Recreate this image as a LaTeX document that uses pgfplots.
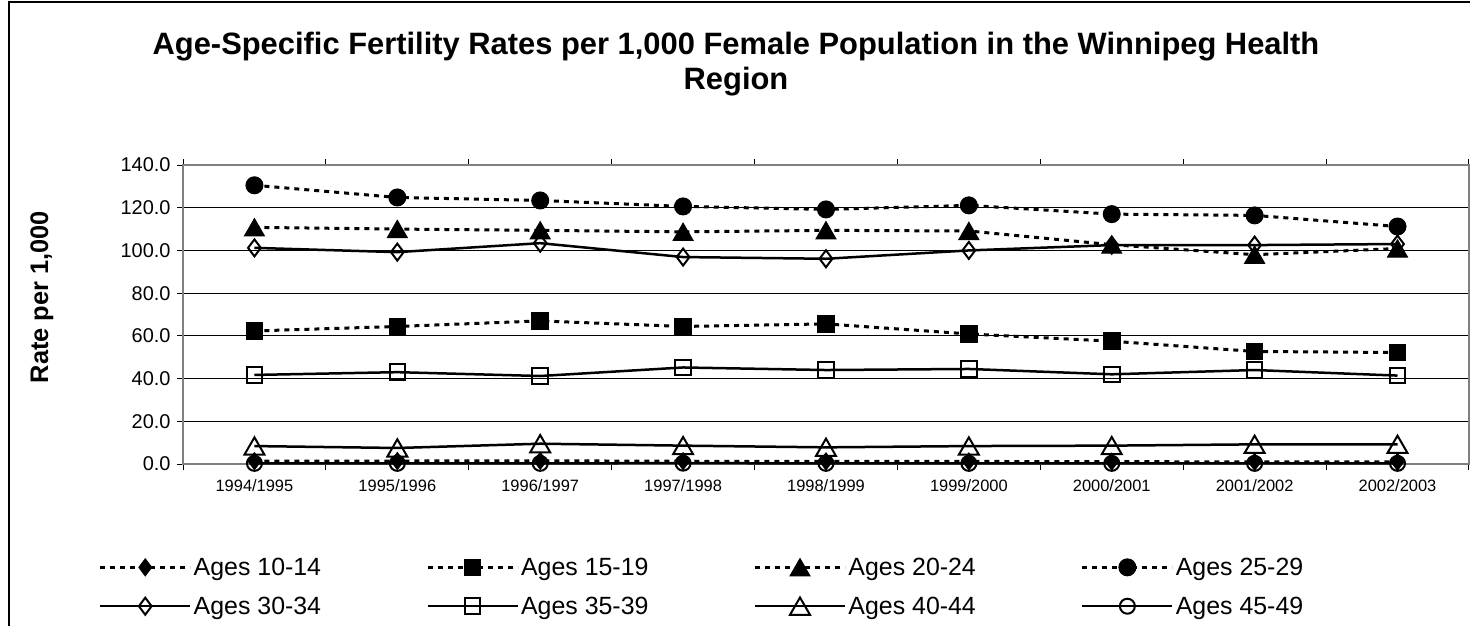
\documentclass[border=0pt]{standalone}
\usepackage{pgfplots}
\pgfplotsset{compat=1.18}
\usepackage{fontspec}
\setmainfont{Liberation Sans}
\begin{document}
\begin{tikzpicture}
\useasboundingbox (0bp,0bp) rectangle (1470bp,-626bp);
\draw[line width=2bp] (9bp,-626bp) -- (9bp,-2bp) -- (1470bp,-2bp);
\node[align=center, font=\fontsize{31}{35}\selectfont\bfseries] at (736bp,-64bp) {Age-Specific Fertility Rates per 1,000 Female Population in the Winnipeg Health\\Region};
\node[rotate=90, font=\fontsize{25.5}{28}\selectfont\bfseries] at (42bp,-297bp) {Rate per 1,000};
\begin{axis}[
  at={(183bp,-464bp)}, anchor=south west,
  scale only axis, width=1286bp, height=299bp,
  clip=false,
  xmin=-0.5, xmax=8.5, ymin=0, ymax=140,
  xtick={0,...,8},
  xticklabels={1994/1995,1995/1996,1996/1997,1997/1998,1998/1999,1999/2000,2000/2001,2001/2002,2002/2003},
  minor xtick={-0.5,0.5,...,8.5},
  ytick={0,20,...,140},
  tick align=outside,
  major tick length=6bp, minor tick length=6bp,
  major x tick style={draw=none},
  minor x tick style={black, line width=1bp},
  major y tick style={black, line width=1bp},
  ymajorgrids, grid style={black, line width=1bp},
  axis line style={draw=black!50, line width=2.5bp},
  /pgf/number format/assume math mode=true,
  yticklabel style={/pgf/number format/.cd, fixed, fixed zerofill, precision=1, /tikz/.cd, font=\fontsize{20}{24}\selectfont, xshift=-3bp},
  xticklabel style={font=\fontsize{16.5}{19}\selectfont, yshift=-6bp},
  legend columns=4,
  legend cell align=left,
  legend style={draw=none, fill=none, at={(axis description cs:-0.068,-0.30)}, anchor=north west,
    font=\fontsize{25}{30}\selectfont,
    /tikz/every even column/.append style={column sep=103bp},
    row sep=16bp},
  legend image code/.code={\draw[#1, mark repeat=2, mark phase=2] plot coordinates {(0bp,0bp) (45bp,0bp) (90bp,0bp)};},
  dot/.style={black, line width=3bp, dash pattern=on 5bp off 5bp},
  sol/.style={black, line width=2.5bp},
]
\addplot[dot, mark=diamond*, mark size=8.5bp, mark options={solid, fill=black, line width=1bp}] coordinates {(0,1.3) (1,1.4) (2,1.5) (3,1.3) (4,1.2) (5,1.2) (6,1.1) (7,1.0) (8,1.0)};
\addlegendentry{Ages 10-14}
\addplot[dot, mark=square*, mark size=8.3bp, mark options={solid, fill=black, line width=1bp}] coordinates {(0,62.3) (1,64.4) (2,67.0) (3,64.4) (4,65.6) (5,60.9) (6,57.5) (7,52.7) (8,52.2)};
\addlegendentry{Ages 15-19}
\addplot[dot, mark=triangle*, mark size=11.5bp, mark options={solid, fill=black, line width=1bp, yshift=-2.8bp}] coordinates {(0,110.8) (1,110.0) (2,109.4) (3,108.7) (4,109.4) (5,109.1) (6,102.7) (7,98.0) (8,100.9)};
\addlegendentry{Ages 20-24}
\addplot[dot, mark=*, mark size=8.5bp, mark options={solid, fill=black, line width=1bp}] coordinates {(0,130.5) (1,124.8) (2,123.4) (3,120.6) (4,119.2) (5,121.1) (6,117.0) (7,116.4) (8,111.2)};
\addlegendentry{Ages 25-29}
\addplot[sol, mark=diamond, mark size=8.5bp, mark options={solid, fill=white, line width=2bp}] coordinates {(0,101.2) (1,99.2) (2,103.4) (3,96.9) (4,96.1) (5,100.0) (6,102.5) (7,102.5) (8,103.0)};
\addlegendentry{Ages 30-34}
\addplot[sol, mark=square, mark size=7.8bp, mark options={solid, fill=white, line width=2bp}] coordinates {(0,41.7) (1,43.0) (2,41.2) (3,45.2) (4,44.0) (5,44.5) (6,42.0) (7,44.0) (8,41.4)};
\addlegendentry{Ages 35-39}
\addplot[sol, mark=triangle, mark size=11.5bp, mark options={solid, fill=white, line width=2bp, yshift=-2.8bp}] coordinates {(0,8.4) (1,7.5) (2,9.5) (3,8.6) (4,7.8) (5,8.4) (6,8.6) (7,9.2) (8,9.2)};
\addlegendentry{Ages 40-44}
\addplot[sol, mark=o, mark size=7.5bp, mark options={solid, fill=white, line width=2bp}] coordinates {(0,0.3) (1,0.3) (2,0.3) (3,0.4) (4,0.3) (5,0.3) (6,0.3) (7,0.3) (8,0.3)};
\addlegendentry{Ages 45-49}
\end{axis}
\end{tikzpicture}
\end{document}
